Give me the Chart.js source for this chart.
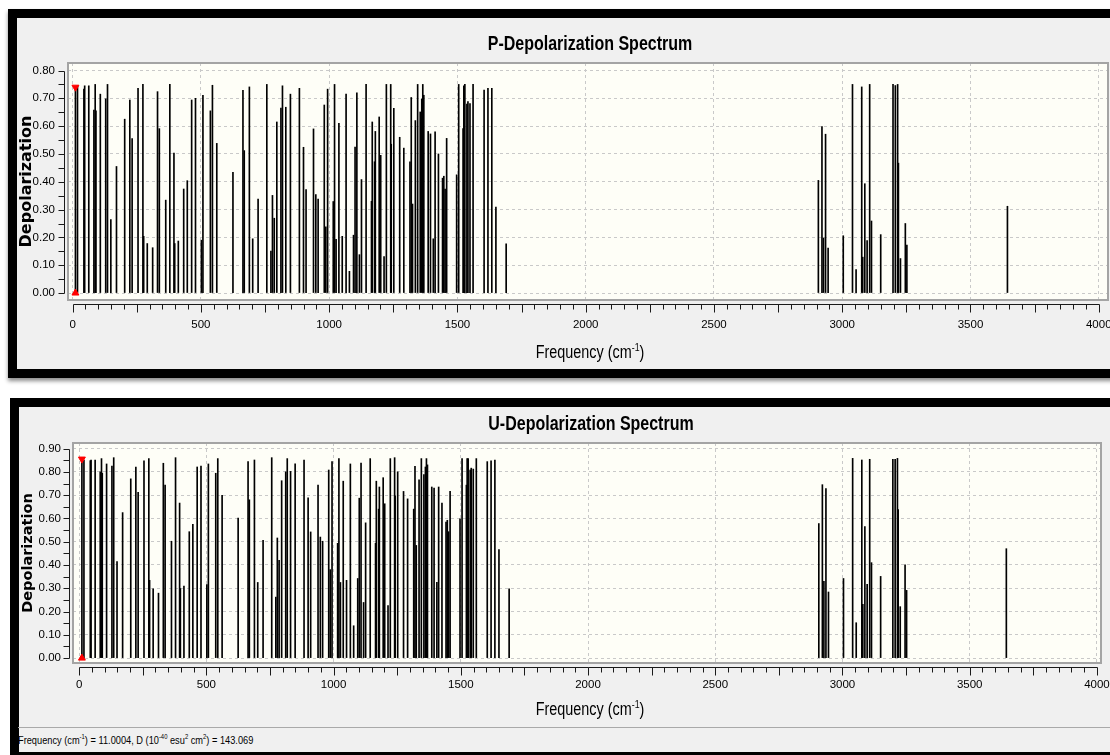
<!DOCTYPE html>
<html>
<head>
<meta charset="utf-8">
<script src="https://cdn.jsdelivr.net/npm/chart.js@4.4.1/dist/chart.umd.min.js"></script>
<style>
body { margin:0; width:1110px; height:755px; overflow:hidden; position:relative; background:#fff; }
.painel { position:absolute; box-sizing:border-box; border:9px solid #000; background:#f0f0f0; }
#painelP { left:8px; top:9px; width:1140px; height:369px; box-shadow:0 3px 4px rgba(0,0,0,0.45); }
#painelU { left:10px; top:398px; width:1140px; height:363px; }
canvas { position:absolute; }
#cP { left:16px; top:17px; }
#cU { left:16px; top:407px; }
.texto { position:absolute; white-space:nowrap; color:#000; font-family:"Liberation Sans", Arial, sans-serif;
  transform:translate(-50%, -50%) scaleX(0.8); }
.titulo { font-size:20px; font-weight:bold; }
.eixoX { font-size:18px; }
.texto sup { font-size:11px; vertical-align:7px; line-height:0; }
#linhaStatus { position:absolute; left:18px; top:727px; width:1100px; border-top:1px solid #a9a9a9; }
#status { position:absolute; left:18px; top:728px; height:24px; white-space:nowrap;
  font-family:"Liberation Sans", Arial, sans-serif; font-size:11px; line-height:24px; color:#000;
  transform-origin:0 0; transform:scaleX(0.84); }
#status sup { font-size:7px; line-height:0; }
</style>
</head>
<body>
<div class="painel" id="painelP"></div>
<div class="painel" id="painelU"></div>
<canvas id="cP" width="1100" height="351"></canvas>
<canvas id="cU" width="1100" height="320"></canvas>
<div class="texto titulo" style="left:590px; top:43px">P-Depolarization Spectrum</div>
<div class="texto eixoX" style="left:590px; top:352px">Frequency (cm<sup>-1</sup>)</div>
<div class="texto titulo" style="left:591px; top:423px">U-Depolarization Spectrum</div>
<div class="texto eixoX" style="left:590px; top:709px">Frequency (cm<sup>-1</sup>)</div>
<div id="linhaStatus"></div>
<div id="status"></div>
<script>
// frequencias (cm-1) dos modos
const frequencias = [
  11, 19, 44, 47, 63, 83, 88, 91, 108, 129,
  136, 149, 171, 203, 223, 232, 255, 274, 277, 291,
  312, 331, 338, 363, 379, 395, 398, 412, 433, 447,
  464, 479, 502, 508, 537, 545, 562, 625, 664, 669,
  689, 702, 723, 757, 773, 779, 786, 796, 812, 818,
  831, 849, 884, 900, 910, 939, 948, 957, 981, 987,
  994, 1016, 1021, 1027, 1038, 1051, 1066, 1079, 1095, 1101,
  1108, 1118, 1126, 1144, 1165, 1168, 1177, 1180, 1195, 1201,
  1214, 1223, 1240, 1242, 1252, 1275, 1291, 1315, 1320, 1325,
  1336, 1345, 1355, 1361, 1365, 1369, 1386, 1395, 1406, 1413,
  1426, 1442, 1447, 1452, 1458, 1497, 1505, 1522, 1525, 1529,
  1537, 1541, 1549, 1561, 1604, 1619, 1634, 1650, 1690, 2907,
  2921, 2927, 2935, 2945, 3004, 3040, 3054, 3076, 3080, 3088,
  3097, 3107, 3114, 3150, 3198, 3207, 3216, 3219, 3227, 3246,
  3252, 3644
]

// P-depolarizacao
const pDepol = [
  0.74, 0.745, 0.733, 0.745, 0.745, 0.658, 0.75, 0.655, 0.715, 0.698,
  0.75, 0.264, 0.455, 0.625, 0.694, 0.555, 0.736, 0.75, 0.204, 0.178,
  0.163, 0.724, 0.591, 0.334, 0.75, 0.503, 0.178, 0.187, 0.374, 0.404,
  0.694, 0.70, 0.19, 0.711, 0.655, 0.747, 0.538, 0.434, 0.729, 0.512,
  0.741, 0.195, 0.338, 0.75, 0.151, 0.351, 0.269, 0.615, 0.665, 0.745,
  0.668, 0.715, 0.736, 0.524, 0.372, 0.59, 0.354, 0.338, 0.676, 0.238,
  0.733, 0.329, 0.75, 0.193, 0.61, 0.204, 0.715, 0.078, 0.208, 0.525,
  0.72, 0.138, 0.408, 0.75, 0.33, 0.615, 0.472, 0.581, 0.633, 0.495,
  0.131, 0.75, 0.75, 0.535, 0.664, 0.56, 0.521, 0.472, 0.703, 0.32,
  0.62, 0.75, 0.651, 0.698, 0.75, 0.711, 0.581, 0.572, 0.195, 0.58,
  0.5, 0.413, 0.42, 0.374, 0.556, 0.425, 0.75, 0.591, 0.745, 0.75,
  0.679, 0.688, 0.681, 0.75, 0.73, 0.736, 0.736, 0.309, 0.177, 0.405,
  0.598, 0.198, 0.571, 0.162, 0.206, 0.75, 0.084, 0.741, 0.129, 0.393,
  0.189, 0.75, 0.259, 0.21, 0.75, 0.746, 0.75, 0.467, 0.124, 0.25,
  0.172, 0.312
]

// U-depolarizacao
const uDepol = [
  0.855, 0.851, 0.848, 0.851, 0.851, 0.80, 0.857, 0.794, 0.834, 0.825,
  0.861, 0.415, 0.625, 0.77, 0.821, 0.712, 0.847, 0.857, 0.334, 0.298,
  0.279, 0.837, 0.743, 0.502, 0.861, 0.666, 0.299, 0.309, 0.543, 0.575,
  0.821, 0.825, 0.316, 0.834, 0.794, 0.857, 0.699, 0.602, 0.844, 0.68,
  0.851, 0.325, 0.506, 0.861, 0.262, 0.516, 0.42, 0.762, 0.80, 0.857,
  0.802, 0.834, 0.851, 0.689, 0.542, 0.743, 0.52, 0.502, 0.808, 0.38,
  0.844, 0.493, 0.857, 0.325, 0.76, 0.334, 0.834, 0.139, 0.342, 0.687,
  0.838, 0.239, 0.581, 0.857, 0.493, 0.76, 0.64, 0.735, 0.775, 0.663,
  0.226, 0.857, 0.861, 0.697, 0.80, 0.716, 0.684, 0.64, 0.824, 0.484,
  0.766, 0.857, 0.788, 0.821, 0.857, 0.83, 0.735, 0.73, 0.325, 0.735,
  0.666, 0.584, 0.592, 0.543, 0.716, 0.598, 0.857, 0.743, 0.857, 0.857,
  0.808, 0.816, 0.812, 0.857, 0.844, 0.847, 0.851, 0.466, 0.298, 0.578,
  0.745, 0.33, 0.728, 0.284, 0.342, 0.858, 0.152, 0.851, 0.231, 0.565,
  0.317, 0.854, 0.41, 0.351, 0.854, 0.854, 0.858, 0.638, 0.221, 0.401,
  0.291, 0.47
]

const freqTicks = [0, 500, 1000, 1500, 2000, 2500, 3000, 3500, 4000]
const pTicks = [0, 0.1, 0.2, 0.3, 0.4, 0.5, 0.6, 0.7, 0.8]
const uTicks = [0, 0.1, 0.2, 0.3, 0.4, 0.5, 0.6, 0.7, 0.8, 0.9]

// modo selecionado (marcadores vermelhos)
const cursorFreq = 11.0004
const cursorD = 143.069

const FONTE = '"Liberation Sans", Arial, sans-serif'

// fundo creme, moldura, eixos com tracinhos
const eixosPlugin = {
  id: 'eixos',
  beforeDraw: (chart) => {
    const {ctx, chartArea: a} = chart
    ctx.save()
    ctx.fillStyle = '#fefef7'
    ctx.fillRect(a.left, a.top, a.width, a.height)
    ctx.restore()
  },
  afterDraw: (chart, args, opts) => {
    const {ctx, chartArea: a} = chart
    const sx = chart.scales.x
    const sy = chart.scales.y
    ctx.save()
    ctx.strokeStyle = '#a4a4a4'
    ctx.lineWidth = 2
    ctx.strokeRect(a.left, a.top, a.width, a.height)

    ctx.strokeStyle = '#1a1a1a'
    ctx.lineWidth = 1
    // eixo y
    const ax = Math.round(a.left - 4) + 0.5
    ctx.beginPath()
    ctx.moveTo(ax, Math.round(sy.getPixelForValue(0)) + 0.5)
    ctx.lineTo(ax, Math.round(sy.getPixelForValue(opts.yMax)) + 0.5)
    for (let v = 0; v <= opts.yMax + 1e-9; v += 0.05) {
      const py = Math.round(sy.getPixelForValue(v)) + 0.5
      ctx.moveTo(ax - 6, py)
      ctx.lineTo(ax, py)
    }
    ctx.stroke()

    // eixo x
    const ay = Math.round(a.bottom + 4) + 0.5
    ctx.beginPath()
    ctx.moveTo(Math.round(sx.getPixelForValue(0)) + 0.5, ay)
    ctx.lineTo(Math.round(sx.getPixelForValue(4000)) + 0.5, ay)
    for (let v = 0; v <= 4000; v += 50) {
      const px = Math.round(sx.getPixelForValue(v)) + 0.5
      ctx.moveTo(px, ay)
      ctx.lineTo(px, ay + (v % 250 === 0 ? 8 : 5))
    }
    ctx.stroke()
    ctx.restore()
  }
}

const gerarGrafico = (id, valores, yTicks, cfg) => {
  const ctx = document.getElementById(id)
  const pontos = frequencias.map((f, i) => ({x: f, y: valores[i]}))
  const cursorY = valores[frequencias.indexOf(Math.round(cursorFreq))]

  return new Chart(ctx, {
    type: 'bar',
    data: {
      datasets: [{
        type: 'scatter',
        data: [{x: cursorFreq, y: cursorY}, {x: cursorFreq, y: 0}],
        pointStyle: 'triangle',
        rotation: [180, 0],
        pointRadius: 4,
        backgroundColor: '#ff0000',
        borderColor: '#ff0000',
        borderWidth: 1
      }, {
        type: 'bar',
        data: pontos,
        backgroundColor: '#000',
        barThickness: 1,
        grouped: false
      }]
    },
    options: {
      responsive: false,
      animation: false,
      layout: { padding: { top: cfg.padTop, left: 0, right: cfg.padRight, bottom: 0 } },
      plugins: {
        legend: { display: false },
        tooltip: { enabled: false },
        eixos: { yMax: yTicks[yTicks.length - 1] }
      },
      scales: {
        x: {
          type: 'linear',
          offset: false,
          min: cfg.xMin,
          max: cfg.xMax,
          afterBuildTicks: s => { s.ticks = freqTicks.map(v => ({value: v})) },
          afterFit: s => {
            s.height = cfg.xHeight
            s.paddingLeft = 0
            s.paddingRight = 0
          },
          grid: { color: '#c9c9c9', drawTicks: false, offset: false },
          border: { display: false, dash: [3, 3] },
          ticks: { color: '#000', padding: cfg.xTickPad, maxRotation: 0, font: { family: FONTE, size: 11.5 },
            callback: v => String(v) }
        },
        y: {
          min: cfg.yMin,
          max: cfg.yMax,
          afterBuildTicks: s => { s.ticks = yTicks.map(v => ({value: v})) },
          afterFit: s => {
            s.width = cfg.yWidth
            s.paddingTop = 0
            s.paddingBottom = 0
          },
          grid: { color: '#c9c9c9', drawTicks: false },
          border: { display: false, dash: [3, 3] },
          ticks: { color: '#000', padding: cfg.yTickPad, font: { family: FONTE, size: 11.5 }, callback: v => v.toFixed(2) },
          title: {
            display: true,
            text: 'Depolarization',
            color: '#000',
            font: { family: '"DejaVu Sans", sans-serif', size: cfg.yTitleSize, weight: 'bold' },
            padding: { top: cfg.yTitlePad, bottom: 0 }
          }
        }
      }
    },
    plugins: [eixosPlugin]
  })
}

gerarGrafico('cP', pDepol, pTicks, {
  padTop: 46, padRight: 8,
  xMin: -18, xMax: 4036, xHeight: 68, xTickPad: 18,
  yMin: -0.025, yMax: 0.827, yWidth: 52, yTickPad: 13, yTitleSize: 16, yTitlePad: 1
})

gerarGrafico('cU', uDepol, uTicks, {
  padTop: 36, padRight: 15,
  xMin: -24, xMax: 4016, xHeight: 64, xTickPad: 15,
  yMin: -0.021, yMax: 0.924, yWidth: 57, yTickPad: 12, yTitleSize: 14.5, yTitlePad: 4
})

// barra de status
document.querySelector('#status').innerHTML =
  `Frequency (cm<sup>-1</sup>) = ${cursorFreq.toFixed(4)}, D (10<sup>-40</sup> esu<sup>2</sup> cm<sup>2</sup>) = ${cursorD}`
</script>
</body>
</html>
